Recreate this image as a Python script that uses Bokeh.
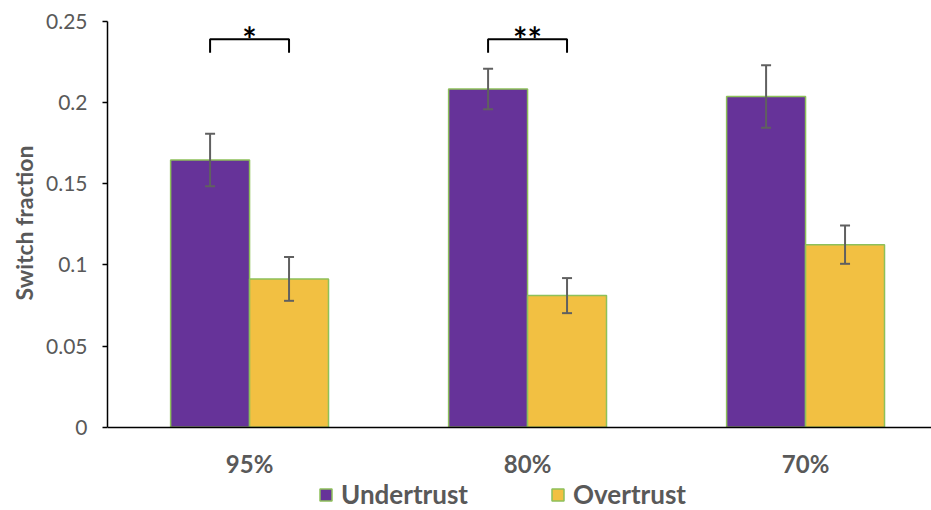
import numpy as np
from bokeh.plotting import figure
from bokeh.models import (ColumnDataSource, Range1d, FixedTicker, Whisker, TeeHead,
                          Legend, LegendItem, LinearAxis, Title)
from bokeh.transform import dodge
from bokeh.core.properties import value
from bokeh.embed import file_html
from bokeh.resources import INLINE

# Reliability conditions and switch fractions per trust type
categories = ["95%", "80%", "70%"]
undertrust = [0.1647, 0.2084, 0.2038]
undertrust_err = [0.0162, 0.0125, 0.0193]
overtrust = [0.0914, 0.0811, 0.1125]
overtrust_err = [0.0135, 0.0108, 0.0118]

y_ticks = [0, 0.05, 0.1, 0.15, 0.2, 0.25]
y_tick_labels = ["0", "0.05", "0.1", "0.15", "0.2", "0.25"]
y_label = "Switch fraction"

# Significance markers between the two bars of a condition
sig_categories = [0, 1]
sig_labels = ["*", "**"]
sig_top = 0.239
sig_drop = 0.2307

PURPLE = "#663399"
YELLOW = "#F2C042"
OUTLINE = "#8DC05A"
GREY_TEXT = "#595959"
FONT = "Lato"

x_idx = np.arange(len(categories))
src = ColumnDataSource(dict(
    x=x_idx,
    under=undertrust,
    under_hi=np.array(undertrust) + np.array(undertrust_err),
    under_lo=np.array(undertrust) - np.array(undertrust_err),
    over=overtrust,
    over_hi=np.array(overtrust) + np.array(overtrust_err),
    over_lo=np.array(overtrust) - np.array(overtrust_err),
))

off = 0.142
bar_w = 0.284

# The frame runs to the bottom edge; the category axis sits at y = 0 and
# the legend lives underneath it, inside the frame.
p = figure(width=931, height=510, output_backend="svg", toolbar_location=None,
           x_range=Range1d(-0.511, 2.453), y_range=Range1d(-0.0513, 0.25),
           x_axis_location=None,
           min_border_left=107, min_border_right=0, min_border_top=21,
           min_border_bottom=0)
p.outline_line_color = None
p.xgrid.visible = False
p.ygrid.visible = False
p.background_fill_color = "white"
p.border_fill_color = "white"

r_under = p.vbar(x=dodge("x", -off), top="under", width=bar_w, source=src,
                 fill_color=PURPLE, line_color=OUTLINE, line_width=1.5)
r_over = p.vbar(x=dodge("x", off), top="over", width=bar_w, source=src,
                fill_color=YELLOW, line_color=OUTLINE, line_width=1.5)

for key, sign in (("under", -1), ("over", 1)):
    w = Whisker(source=src, base=dodge("x", sign * off), upper=key + "_hi",
                lower=key + "_lo", line_color="#606060", line_width=2,
                level="overlay",
                upper_head=TeeHead(size=10, line_color="#606060", line_width=2),
                lower_head=TeeHead(size=10, line_color="#606060", line_width=2))
    p.add_layout(w)

# Brackets joining the bar centres
bx, by = [], []
for c in sig_categories:
    bx.append([c - off, c - off, c + off, c + off])
    by.append([sig_drop, sig_top, sig_top, sig_drop])
p.multi_line(bx, by, line_color="black", line_width=2)
p.text(x=[c for c in sig_categories], y=[0.2395] * len(sig_categories), text=sig_labels,
       text_font=value(FONT), text_font_style="bold", text_font_size="34px",
       text_align="center", text_baseline="alphabetic", text_color="black")

# Value axis (line limited to 0..0.25)
p.yaxis.ticker = FixedTicker(ticks=y_ticks)
p.yaxis.bounds = (0, 0.25)
p.yaxis.major_label_overrides = {t: l for t, l in zip(y_ticks, y_tick_labels)}
p.yaxis.minor_tick_line_color = None
p.yaxis.major_tick_out = 5
p.yaxis.major_tick_in = 0
p.yaxis.major_tick_line_color = "black"
p.yaxis.major_tick_line_width = 1.5
p.yaxis.axis_line_color = "black"
p.yaxis.axis_line_width = 1.5
p.yaxis.major_label_standoff = 15
p.yaxis.major_label_text_font = FONT
p.yaxis.major_label_text_font_size = "21px"
p.yaxis.major_label_text_color = GREY_TEXT

# Axis title, centred on the 0..0.25 span rather than the whole frame
p.add_layout(Title(text=y_label, align="right", offset=124, standoff=12,
                   text_font=FONT, text_font_style="bold", text_font_size="23px",
                   text_color=GREY_TEXT), "left")

# Category axis fixed at zero
xaxis = LinearAxis(fixed_location=0,
                   ticker=FixedTicker(ticks=list(x_idx)),
                   major_label_overrides={int(i): c for i, c in zip(x_idx, categories)})
xaxis.minor_tick_line_color = None
xaxis.major_tick_line_color = None
xaxis.axis_line_color = "black"
xaxis.axis_line_width = 1.5
xaxis.major_label_standoff = 16
xaxis.major_label_text_font = FONT
xaxis.major_label_text_font_style = "bold"
xaxis.major_label_text_font_size = "24px"
xaxis.major_label_text_color = GREY_TEXT
p.add_layout(xaxis, "below")

legend = Legend(items=[LegendItem(label="Undertrust", renderers=[r_under]),
                       LegendItem(label="Overtrust", renderers=[r_over])],
                orientation="horizontal", location=(211, 0),
                glyph_width=15, glyph_height=15, label_standoff=8, spacing=82,
                padding=0, margin=0, border_line_color=None,
                background_fill_alpha=0,
                label_text_font=FONT, label_text_font_style="bold",
                label_text_font_size="26px", label_text_color=GREY_TEXT)
p.add_layout(legend, "center")

open("out.html", "w").write(file_html(p, INLINE))
